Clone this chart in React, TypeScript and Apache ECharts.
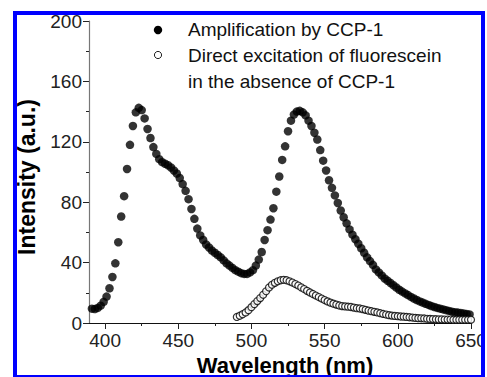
import React, { useEffect, useRef } from "react";
import * as echarts from "echarts";

const FONT = "'Liberation Sans', Arial, Helvetica, sans-serif";

const seriesNames = ["Amplification by CCP-1", "Direct excitation of fluorescein"];
const legendExtraLine = "in the absence of CCP-1";
const xAxisTitle = "Wavelength (nm)";
const yAxisTitle = "Intensity (a.u.)";

const xTickLabels = [400, 450, 500, 550, 600, 650];
const xMinorTicks = [425, 475, 525, 575, 625];

const ampWavelength = [
  391, 393, 395, 397, 399, 401, 403, 405, 407, 409,
  411, 413, 415, 417, 419, 421, 423, 425, 427, 429,
  431, 433, 435, 437, 439, 441, 443, 445, 447, 449,
  451, 453, 455, 457, 459, 461, 463, 465, 467, 469,
  471, 473, 475, 477, 479, 481, 483, 485, 487, 489,
  491, 493, 495, 497, 499, 501, 503, 505, 507, 509,
  511, 513, 515, 517, 519, 521, 523, 525, 527, 529,
  531, 533, 535, 537, 539, 541, 543, 545, 547, 549,
  551, 553, 555, 557, 559, 561, 563, 565, 567, 569,
  571, 573, 575, 577, 579, 581, 583, 585, 587, 589,
  591, 593, 595, 597, 599, 601, 603, 605, 607, 609,
  611, 613, 615, 617, 619, 621, 623, 625, 627, 629,
  631, 633, 635, 637, 639, 641, 643, 645, 647, 649,
];
const ampIntensity = [
  9.5, 9.3, 10, 11.5, 14, 17.5, 23, 30.5, 39.5, 53.5,
  70.5, 84, 102, 118, 130.5, 139.5, 142.5, 141, 135.5, 128.5,
  122.5, 116.5, 112, 108.5, 106.5, 105.5, 104.5, 103, 101, 99,
  96, 92, 87.5, 82, 75.5, 69, 62.5, 58, 55, 52,
  50, 48, 46.5, 45, 43.5, 41.5, 39.5, 38, 36.5, 35,
  34, 33, 32.5, 32.5, 33.5, 35, 38, 42, 47, 55,
  61.5, 68.5, 76, 87, 97, 108, 117, 127, 134, 138,
  140, 140.5, 139.5, 137.5, 134, 130.5, 126, 121.5, 114.5, 107.5,
  101, 94.5, 89.5, 84.5, 79.5, 74.5, 70, 66, 62, 58.5,
  55.5, 52.5, 49.5, 46.5, 43.5, 41, 38.5, 35.5, 33.5, 31.5,
  29.5, 28, 26.5, 25, 23.5, 22, 20.8, 19.6, 18.5, 17.3,
  16.2, 15.2, 14.3, 13.5, 12.7, 12, 11.2, 10.6, 10, 9.5,
  9, 8.5, 8, 7.5, 7.2, 6.9, 6.6, 6.3, 6, 5.7,
];

const directWavelength = [
  490, 492, 494, 496, 498, 500, 502, 504, 506, 508,
  510, 512, 514, 516, 518, 520, 522, 524, 526, 528,
  530, 532, 534, 536, 538, 540, 542, 544, 546, 548,
  550, 552, 554, 556, 558, 560, 562, 564, 566, 568,
  570, 572, 574, 576, 578, 580, 582, 584, 586, 588,
  590, 592, 594, 596, 598, 600, 602, 604, 606, 608,
  610, 612, 614, 616, 618, 620, 622, 624, 626, 628,
  630, 632, 634, 636, 638, 640, 642, 644, 646, 648,
  650,
];
const directIntensity = [
  4, 4.8, 5.8, 7, 8.5, 10.5, 12.5, 14.5, 16.5, 18.7,
  21, 23.5, 25.3, 26.6, 27.6, 28.3, 28.6, 28.3, 27.6, 26.8,
  25.8, 24.8, 23.6, 22.5, 21.3, 20.2, 19.2, 18.2, 17.2, 16.2,
  15.2, 14.3, 13.5, 12.8, 12.2, 11.6, 11.2, 11, 10.8, 10.6,
  10.2, 9.8, 9.6, 9.2, 8.7, 8.2, 7.8, 7.4, 7, 6.5,
  6, 5.6, 5.2, 4.9, 4.7, 4.5, 4.3, 4.2, 4, 3.8,
  3.6, 3.4, 3.2, 3.1, 3, 2.8, 2.7, 2.6, 2.5, 2.4,
  2.4, 2.3, 2.3, 2.3, 2.2, 2.2, 2.2, 2.2, 2.2, 2.2,
  2.2,
];

export default function App() {
  const ref = useRef<HTMLDivElement>(null);
  useEffect(() => {
    if (!ref.current) return;
    const chart = echarts.init(ref.current, null, { renderer: "svg" });
    const ampData = ampWavelength.map((w, i) => [w, ampIntensity[i]]);
    const directData = directWavelength.map((w, i) => [w, directIntensity[i]]);
    const tickColor = "#222";
    const labelFont = { fontFamily: FONT, fontSize: 19, color: tickColor };
    chart.setOption({
      animation: false,
      backgroundColor: "#fff",
      textStyle: { fontFamily: FONT, fontSize: 19 },
      grid: {
        left: 89,
        right: 16,
        top: 21,
        bottom: 54,
        containLabel: false,
        outerBoundsMode: "none",
      },
      xAxis: [
        {
          type: "value",
          min: 389,
          max: 650,
          name: xAxisTitle,
          nameLocation: "middle",
          nameGap: 29,
          nameTextStyle: {
            fontFamily: FONT,
            fontSize: 22,
            fontWeight: "bold",
            color: "#000",
            padding: [0, 0, 0, 10],
          },
          axisLine: { show: true, onZero: false, lineStyle: { color: "#111", width: 1.2 } },
          axisTick: {
            show: true,
            length: 6,
            customValues: xTickLabels,
            lineStyle: { color: tickColor },
          },
          axisLabel: {
            customValues: xTickLabels,
            margin: 8,
            ...labelFont,
            showMaxLabel: true,
            showMinLabel: true,
          },
          splitLine: { show: false },
        },
        {
          type: "value",
          min: 389,
          max: 650,
          position: "bottom",
          axisLine: { show: false },
          axisTick: {
            show: true,
            length: 3,
            customValues: xMinorTicks,
            lineStyle: { color: tickColor },
          },
          axisLabel: { show: false },
          splitLine: { show: false },
        },
      ],
      yAxis: {
        type: "value",
        min: 0,
        max: 200,
        interval: 40,
        name: yAxisTitle,
        nameLocation: "middle",
        nameGap: 51,
        nameTextStyle: {
          fontFamily: FONT,
          fontSize: 23,
          fontWeight: "bold",
          color: "#000",
          padding: [0, 10, 0, 0],
        },
        axisLine: { show: true, onZero: false, lineStyle: { color: "#777", width: 1.2 } },
        axisTick: { show: true, length: 6, lineStyle: { color: tickColor } },
        minorTick: { show: true, splitNumber: 2, length: 3, lineStyle: { color: tickColor } },
        axisLabel: { margin: 7, ...labelFont },
        splitLine: { show: false },
        minorSplitLine: { show: false },
      },
      series: [
        {
          name: seriesNames[0],
          type: "scatter",
          xAxisIndex: 0,
          data: ampData,
          symbol: "circle",
          symbolSize: 8.5,
          itemStyle: { color: "#000" },
          emphasis: { disabled: true },
          z: 2,
        },
        {
          name: seriesNames[1],
          type: "scatter",
          xAxisIndex: 0,
          data: directData,
          symbol: "circle",
          symbolSize: 7,
          itemStyle: { color: "#fff", borderColor: "#000", borderWidth: 1.2 },
          emphasis: { disabled: true },
          z: 3,
        },
      ],
      graphic: [
        { type: "circle", shape: { cx: 158, cy: 30, r: 4.2 }, style: { fill: "#000" }, z: 50 },
        {
          type: "circle",
          shape: { cx: 158, cy: 55, r: 3.6 },
          style: { fill: "#fff", stroke: "#222", lineWidth: 1 },
          z: 50,
        },
        {
          type: "text",
          x: 188,
          y: 29,
          style: { text: seriesNames[0], font: `19px ${FONT}`, fill: "#111", verticalAlign: "middle" },
          z: 50,
        },
        {
          type: "text",
          x: 188,
          y: 55,
          style: { text: seriesNames[1], font: `19px ${FONT}`, fill: "#111", verticalAlign: "middle" },
          z: 50,
        },
        {
          type: "text",
          x: 188,
          y: 81,
          style: { text: legendExtraLine, font: `19px ${FONT}`, fill: "#111", verticalAlign: "middle" },
          z: 50,
        },
        { type: "rect", shape: { x: 485, y: 0, width: 10, height: 377 }, style: { fill: "#fff" }, z: 90 },
        { type: "rect", shape: { x: 0, y: 0, width: 13, height: 377 }, style: { fill: "#fff" }, z: 90 },
        { type: "rect", shape: { x: 0, y: 0, width: 487, height: 11 }, style: { fill: "#fff" }, z: 90 },
        {
          type: "rect",
          shape: { x: 15, y: 13, width: 468, height: 364 },
          style: { fill: "none", stroke: "#0000ff", lineWidth: 4 },
          z: 100,
        },
      ],
    });
    return () => chart.dispose();
  }, []);
  return (
    <div
      ref={ref}
      style={{ position: "fixed", left: 0, top: 0, width: 487, height: 377, background: "#fff" }}
    />
  );
}
